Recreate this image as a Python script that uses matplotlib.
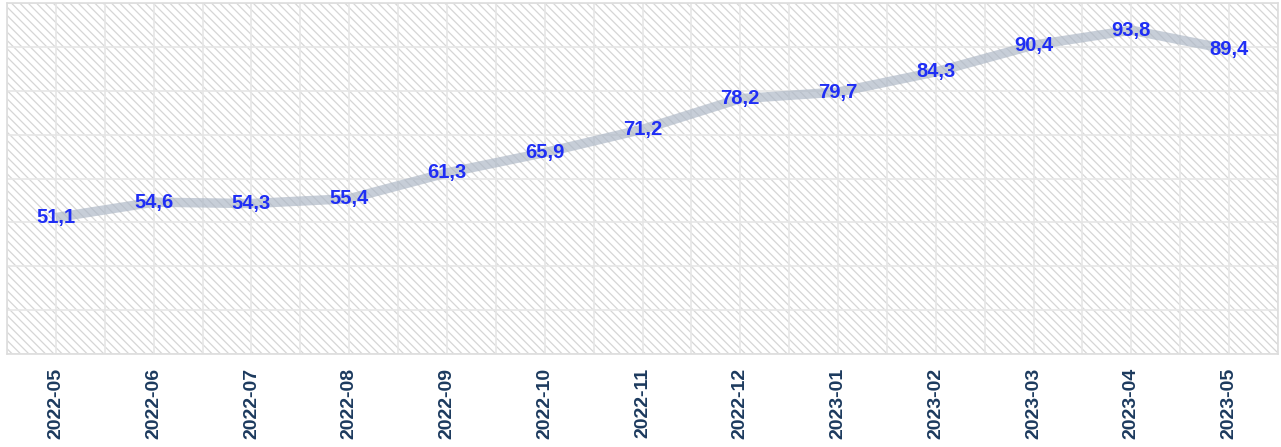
import numpy as np
import matplotlib.pyplot as plt
from matplotlib.patches import Rectangle

months = ["2022-05", "2022-06", "2022-07", "2022-08", "2022-09", "2022-10", "2022-11",
          "2022-12", "2023-01", "2023-02", "2023-03", "2023-04", "2023-05"]
values = [51.1, 54.6, 54.3, 55.4, 61.3, 65.9, 71.2, 78.2, 79.7, 84.3, 90.4, 93.8, 89.4]

plt.rcParams['font.family'] = ['Liberation Sans', 'DejaVu Sans']
plt.rcParams['hatch.color'] = '#d6d6d6'
plt.rcParams['hatch.linewidth'] = 0.9

fig = plt.figure(figsize=(12.81, 4.47), dpi=100)
ax = fig.add_axes([7 / 1281, (447 - 354) / 447, 1271 / 1281, 351 / 447])

x = np.arange(len(months))

# фон со штриховкой
ax.add_patch(Rectangle((0, 0), 1, 1, transform=ax.transAxes, facecolor='white',
                       edgecolor='#d6d6d6', hatch='\\\\\\\\', linewidth=0, zorder=0))

# сетка: по центрам категорий и по границам
for xi in np.arange(-0.5, len(months), 0.5):
    ax.axvline(xi, color='#e6e6e6', linewidth=1.2, zorder=1)
for yi in range(20, 101, 10):
    ax.axhline(yi, color='#e6e6e6', linewidth=1.2, zorder=1)

ax.plot(x, values, color='#aab5c4', alpha=0.65, linewidth=6.8, solid_capstyle='butt',
        solid_joinstyle='round', zorder=2)

for xi, v in zip(x, values):
    ax.text(xi, v, f"{v:.1f}".replace('.', ','), ha='center', va='center',
            fontsize=14.5, fontweight='bold', color='#1f2ef5', zorder=3)

ax.set_xlim(-0.5, len(months) - 0.5)
ax.set_ylim(20, 100)
ax.set_xticks(x)
ax.set_xticklabels(months, rotation=90, fontsize=14, fontweight='bold', color='#1c3a5e')
ax.set_yticks([])
ax.tick_params(axis='x', length=0, pad=10)
for s in ax.spines.values():
    s.set_color('#dddddd')
    s.set_linewidth(1.2)

fig.savefig("out.png", dpi=100)
